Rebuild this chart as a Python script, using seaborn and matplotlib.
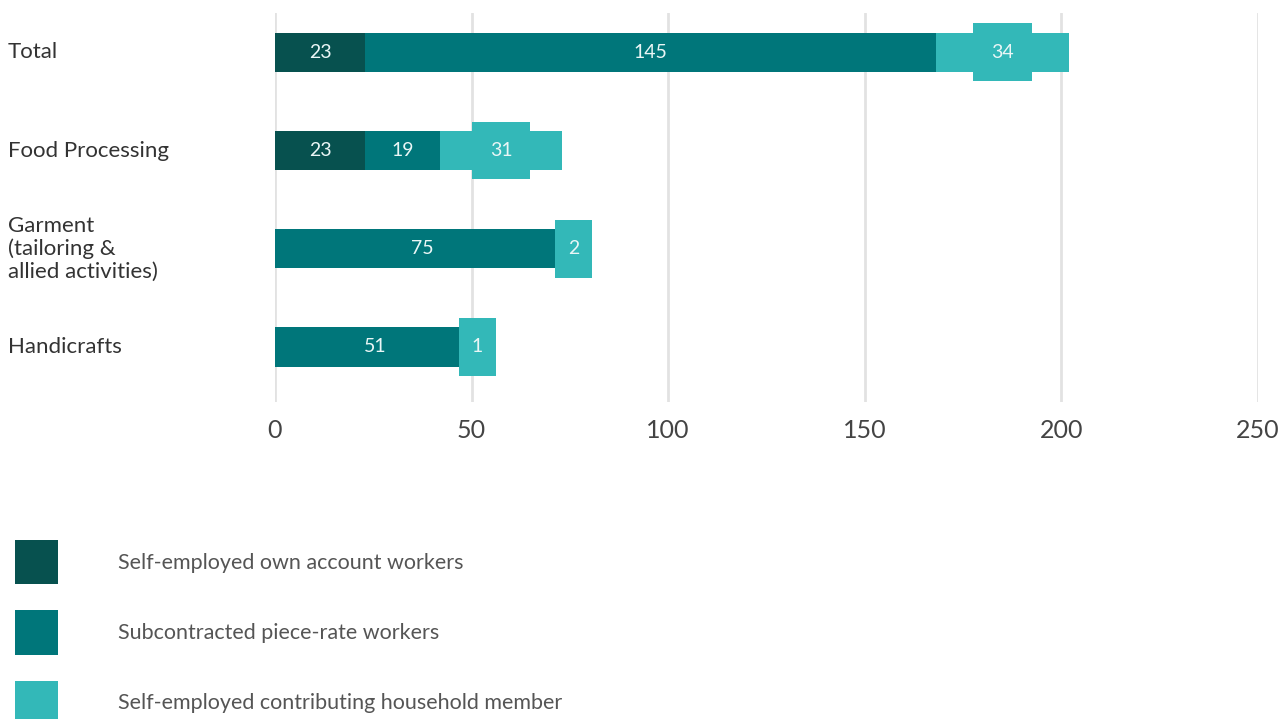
import matplotlib
matplotlib.use("Agg")
import matplotlib.pyplot as plt
from matplotlib.patches import Patch
from matplotlib.path import Path
from matplotlib.transforms import blended_transform_factory
import seaborn as sns
import pandas as pd
import numpy as np

# Worker categories by sector
sectors = ["Total", "Food Processing", "Garment\n(tailoring &\nallied activities)", "Handicrafts"]
own_account = [23, 23, 0, 0]
piece_rate = [145, 19, 75, 51]
household = [34, 31, 2, 1]

series_names = [
    "Self-employed own account workers",
    "Subcontracted piece-rate workers",
    "Self-employed contributing household member",
]
colors = ["#07514f", "#00767a", "#33b8b8"]
x_ticks = [0, 50, 100, 150, 200, 250]

sns.set_theme(style="white")
plt.rcParams["font.family"] = ["Lato", "DejaVu Sans"]

W, H = 1281, 719
fig = plt.figure(figsize=(W / 100, H / 100), dpi=100)
ax = fig.add_axes([275 / W, 1 - 402 / H, (1258 - 275) / W, 389 / H])

layers = [np.array(own_account), np.array(piece_rate), np.array(household)]
cum = np.cumsum(layers, axis=0)

# Stacked bars: widest cumulative layer first, shorter ones drawn over it
for i in reversed(range(3)):
    df = pd.DataFrame({"sector": sectors, "value": cum[i]})
    sns.barplot(data=df, y="sector", x="value", orient="h", color=colors[i],
                width=0.4, saturation=1, linewidth=0, ax=ax, zorder=2)


def tag_box(x0, y0, width, height, mutation_size):
    """Rectangular tag, taller than the bar, around a value label."""
    hpad = 0.4 * mutation_size + 0.45 * width
    vpad = 1.05 * mutation_size
    x0, x1 = x0 - hpad, x0 + width + hpad
    y0, y1 = y0 - vpad, y0 + height + vpad
    return Path([(x0, y0), (x1, y0), (x1, y1), (x0, y1), (x0, y0)], closed=True)


# Value labels centred in each segment
for i in range(3):
    for j, v in enumerate(layers[i]):
        if v == 0:
            continue
        center = cum[i][j] - v / 2
        kw = dict(ha="center", va="center", fontsize=14, color="#eaf6f6", zorder=5)
        if i == 2:
            kw["bbox"] = dict(boxstyle=tag_box, facecolor=colors[2], edgecolor="none")
        ax.text(center, j, str(v), **kw)

ax.set_xlim(0, 250)
ax.set_ylim(3.56, -0.4)
ax.set_xticks(x_ticks)
ax.set_xticklabels([str(t) for t in x_ticks], fontsize=18, color="#444444")
ax.xaxis.grid(True, color="#e2e2e2", linewidth=2, zorder=0)
ax.set_axisbelow(True)
ax.tick_params(axis="x", length=0, pad=12)
ax.set_yticks(range(len(sectors)))
ax.set_yticklabels([])
ax.tick_params(axis="y", length=0)
ax.set_xlabel("")
ax.set_ylabel("")
for s in ax.spines.values():
    s.set_visible(False)

# Sector names, left-aligned at the figure margin
trans = blended_transform_factory(fig.transFigure, ax.transData)
for j, name in enumerate(sectors):
    ax.text(8 / W, j, name, transform=trans, ha="left", va="center",
            fontsize=16, color="#333333", linespacing=1.15, clip_on=False)

handles = [Patch(facecolor=c, edgecolor="none") for c in colors]
fig.legend(handles, series_names, loc="upper left",
           bbox_to_anchor=(15 / W, 1 - 540 / H), frameon=False,
           fontsize=15.5, handlelength=2.0, handleheight=2.8, labelspacing=1.2,
           handletextpad=2.8, borderpad=0, borderaxespad=0,
           labelcolor="#555555")

fig.savefig("out.png", dpi=100)
